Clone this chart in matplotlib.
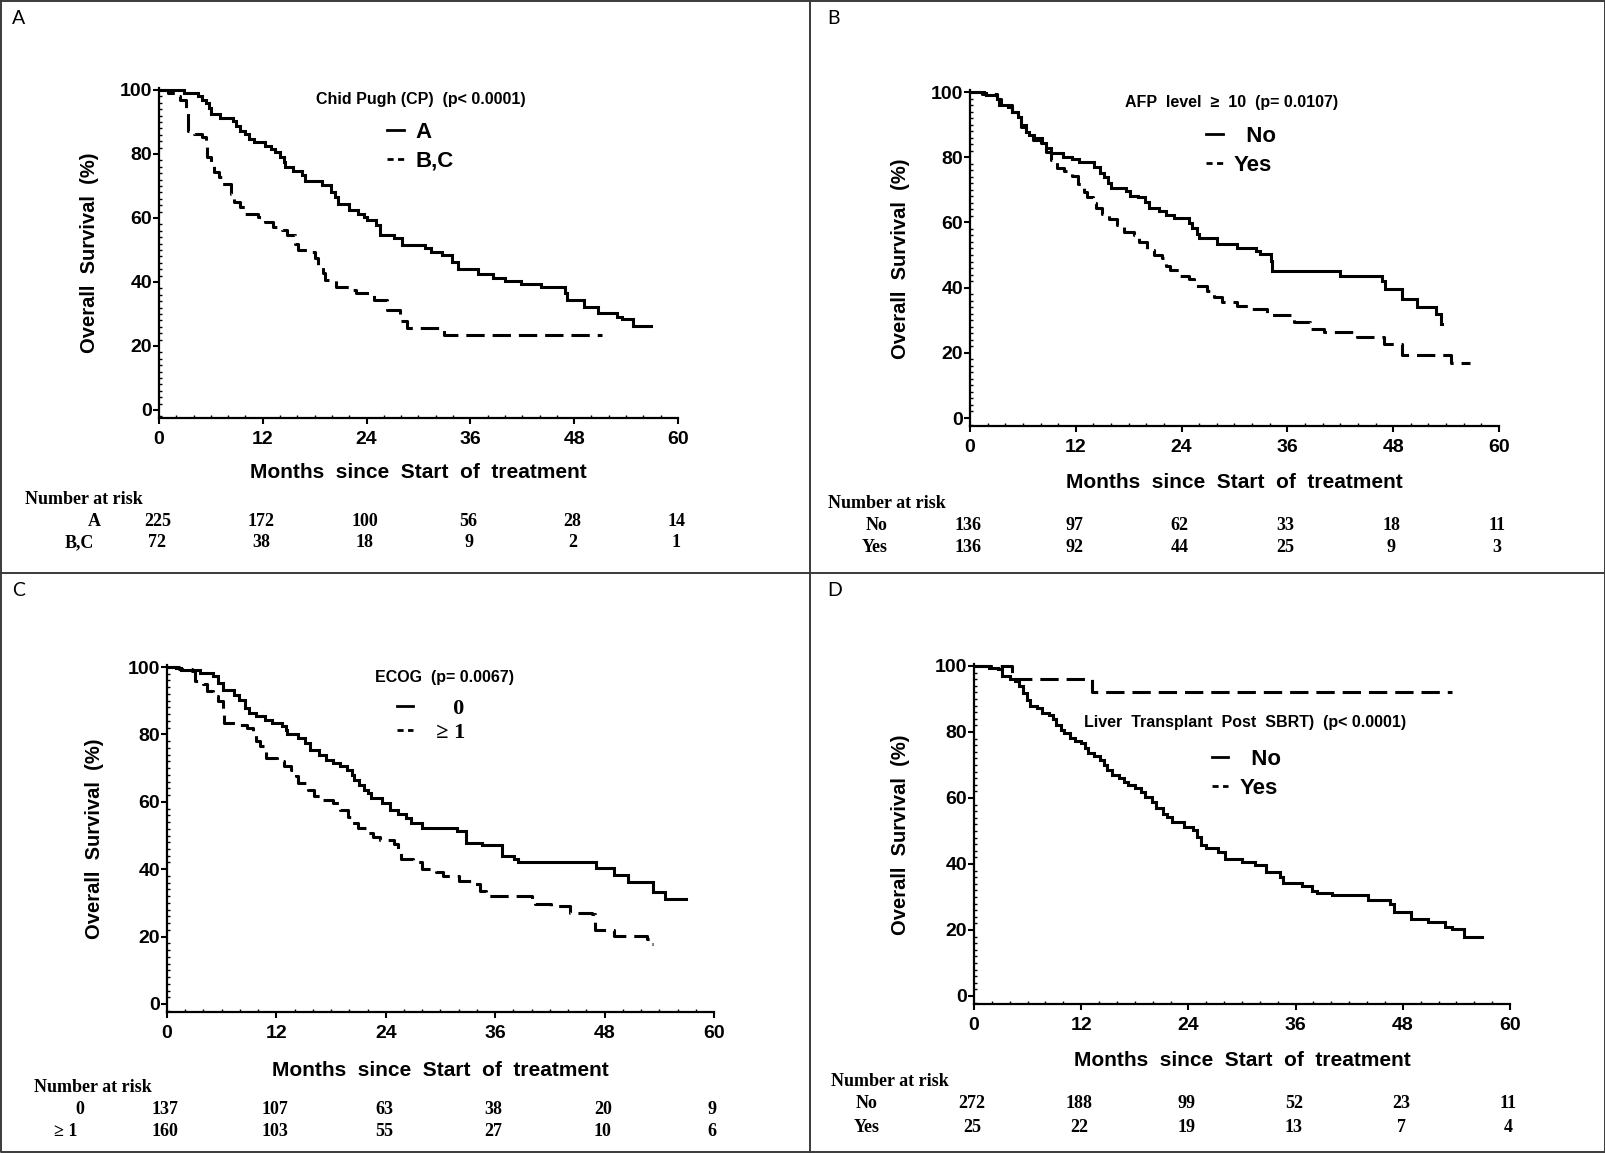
import matplotlib
matplotlib.use("Agg")
import matplotlib.pyplot as plt
from matplotlib.lines import Line2D
from matplotlib.ticker import MultipleLocator
from matplotlib import transforms

plt.rcParams["font.family"] = ["Liberation Sans", "DejaVu Sans"]
plt.rcParams["font.weight"] = "bold"
plt.rcParams["axes.labelweight"] = "bold"
plt.rcParams["axes.linewidth"] = 1.6

W, H = 1606, 1153
SERIF = ["Liberation Serif", "DejaVu Serif"]

# ---- data ----
months = [0, 12, 24, 36, 48, 60]
surv_ticks = [0, 20, 40, 60, 80, 100]

# A: Child Pugh
cpA_t = [0, 2.9, 4.5, 5.0, 5.4, 5.8, 6.0, 7.1, 8.5, 8.9, 9.4, 10.0, 10.4, 11.0, 12.3, 12.9, 13.4, 14.0,
         14.4, 14.6, 15.5, 16.5, 16.9, 18.8, 19.9, 20.3, 20.7, 22.0, 23.0, 23.7, 24.1, 25.1, 25.5, 27.2,
         28.1, 30.8, 31.4, 32.7, 33.9, 34.6, 36.9, 38.6, 40.0, 41.9, 44.2, 46.9, 47.2, 49.1, 50.8, 52.9,
         53.5, 54.8, 56.9]
cpA_s = [100, 99.2, 98, 97, 96, 94.5, 92.4, 91.4, 90.4, 88.8, 87.3, 86.2, 84.7, 83.6, 82.6, 81.6, 80.5,
         79.0, 77.4, 75.9, 74.8, 73.3, 71.7, 70.2, 68.1, 66.5, 64.5, 62.4, 61.3, 60.3, 59.3, 57.7, 54.6,
         53.6, 51.5, 50.5, 49.4, 48.4, 46.3, 44.2, 42.5, 41.1, 40.3, 39.3, 38.3, 36.5, 34.4, 32.1, 30.3,
         29.0, 28.4, 26.3, 26.3]
cpBC_t = [0, 1.0, 1.8, 2.4, 3.1, 3.3, 4.1, 5.0, 5.4, 5.6, 6.0, 6.4, 6.9, 7.3, 8.3, 8.7, 9.4, 10.0, 11.5,
          12.3, 13.2, 14.2, 14.8, 15.7, 16.1, 17.6, 18.0, 18.4, 19.0, 19.2, 20.5, 22.0, 22.8, 24.9, 26.4,
          27.9, 28.7, 32.9, 51.2]
cpBC_s = [100, 99.2, 98, 97, 94.5, 87.3, 86.2, 85.2, 82.1, 79, 76.4, 74.3, 72.7, 70.7, 67.6, 65, 63.4,
          61.3, 60.3, 58.8, 57.2, 56.2, 54.6, 52, 49.9, 49.4, 47.4, 45.3, 42.7, 40.6, 38.5, 37.5, 36.5,
          34.4, 31.3, 27.7, 25.6, 23.5, 23.5]
cp_risk = {"A": [225, 172, 100, 56, 28, 14], "B,C": [72, 38, 18, 9, 2, 1]}

# B: AFP level
afpNo_t = [0, 1.6, 1.8, 3.1, 3.3, 4.3, 4.8, 5.4, 5.8, 6.3, 6.7, 7.3, 8.2, 8.6, 9.2, 10.5, 11.6, 12.4,
           14.1, 14.8, 15.2, 15.6, 16.0, 17.7, 18.2, 19.0, 19.9, 20.3, 21.4, 22.2, 23.1, 24.8, 25.2, 25.8,
           26.0, 28.0, 30.3, 32.4, 32.9, 34.1, 34.3, 42.0, 46.7, 47.1, 49.0, 50.7, 52.8, 53.4, 53.5]
afpNo_s = [100, 99.8, 99, 98, 96.1, 95.4, 93.9, 92.4, 89.8, 87.8, 86.8, 85.8, 84.3, 82.8, 81.2, 80.2,
           79.5, 78.4, 76.9, 75.3, 73.8, 72.2, 70.7, 69.7, 68.2, 67.7, 66.2, 64.5, 63.5, 62.4, 61.4, 59.9,
           58.4, 56.3, 55.3, 53.3, 52.3, 51.3, 50.3, 48.2, 45.2, 43.7, 42.1, 39.6, 36.5, 34.2, 32.0, 28.9,
           28.9]
afpYes_t = [0, 1.4, 3.1, 3.5, 4.8, 5.4, 5.8, 6.3, 7.1, 8.0, 8.6, 9.2, 9.9, 10.7, 11.6, 12.2, 12.9, 13.3,
            13.9, 14.3, 15.0, 15.8, 16.7, 17.5, 18.6, 19.2, 20.1, 20.9, 21.8, 22.2, 22.7, 23.7, 24.8, 25.4,
            26.9, 27.7, 28.6, 30.3, 32.0, 33.7, 36.7, 38.6, 40.1, 43.9, 46.9, 49.0, 54.6, 56.7]
afpYes_s = [100, 99.5, 98, 95.9, 93.9, 91.4, 89.3, 86.8, 85.3, 84.3, 81.7, 79.2, 76.7, 75.7, 74.2, 71.9,
            69.4, 67.9, 65.9, 64.5, 62.6, 61.1, 59.1, 57.1, 56.1, 54.1, 51.5, 50.1, 49.1, 46.5, 45.4, 43.7,
            42.7, 40.6, 39.1, 37.1, 35.5, 34.5, 33.5, 31.5, 29.4, 27.4, 26.4, 24.9, 22.8, 19.3, 16.8, 16.8]
afp_risk = {"No": [136, 97, 62, 33, 18, 11], "Yes": [136, 92, 44, 25, 9, 3]}

# C: ECOG
ecog0_t = [0, 1.0, 1.5, 3.6, 5.0, 5.6, 6.1, 7.3, 7.9, 8.6, 9.0, 9.8, 10.7, 11.5, 12.6, 13.0, 13.2, 14.4,
           15.1, 15.7, 16.7, 17.4, 18.2, 19.0, 19.7, 20.3, 20.5, 21.1, 21.6, 22.0, 22.4, 23.6, 24.5, 25.3,
           26.2, 26.8, 28.0, 31.8, 32.8, 34.5, 36.8, 38.1, 38.5, 47.1, 49.0, 50.6, 53.3, 54.6, 56.9]
ecog0_s = [100, 99.7, 99.2, 98.2, 97.2, 95.3, 93.3, 91.8, 90.3, 87.9, 86.4, 85.4, 84.4, 83.4, 82.4, 81.4,
           80.2, 79.0, 77.5, 75.5, 74.0, 72.5, 71.5, 70.5, 69.5, 68.0, 66.6, 65.1, 63.6, 62.7, 61.2, 59.7,
           57.7, 56.3, 55.2, 53.8, 52.3, 51.3, 47.9, 47.2, 43.9, 42.9, 42.0, 40.5, 38.2, 36.2, 33.1, 31.1,
           31.1]
ecog1_t = [0, 1.3, 2.7, 3.1, 4.0, 4.4, 5.0, 5.6, 6.1, 6.3, 7.7, 8.8, 9.4, 9.8, 10.2, 10.9, 12.1, 12.8,
           13.6, 14.2, 14.4, 15.5, 16.1, 16.9, 18.2, 19.0, 19.9, 20.3, 20.9, 22.0, 22.6, 23.4, 24.9, 25.3,
           25.7, 27.0, 28.0, 29.5, 30.3, 32.0, 33.7, 34.3, 35.0, 40.0, 40.4, 42.1, 44.2, 46.6, 46.9, 49.0,
           52.7, 53.1, 53.3]
ecog1_s = [100, 99.4, 98.7, 95.8, 94.9, 92.8, 91.3, 89.8, 86.4, 83.4, 82.9, 82.0, 80.0, 78.0, 76.5, 73.1,
           72.0, 70.6, 69.5, 67.6, 65.6, 63.6, 61.6, 60.6, 59.6, 57.6, 55.6, 53.6, 52.1, 50.6, 49.6, 48.8,
           47.6, 45.7, 43.1, 42.1, 40.1, 39.1, 38.1, 36.6, 35.6, 33.6, 32.1, 31.1, 29.6, 29.1, 27.1, 26.6,
           21.9, 20.2, 19.2, 17.8, 17.8]
ecog_risk = {"0": [137, 107, 63, 38, 20, 9], "≥ 1": [160, 103, 55, 27, 10, 6]}

# D: Liver transplant post SBRT
ltNo_t = [0, 1.7, 2.7, 3.1, 4.0, 4.6, 5.0, 5.5, 5.9, 6.3, 7.1, 7.6, 8.4, 8.8, 9.2, 9.7, 10.1, 10.7, 11.3,
          12.0, 12.4, 12.8, 13.4, 14.1, 14.5, 14.9, 15.5, 16.2, 16.8, 17.2, 18.0, 18.7, 19.1, 19.9, 20.4,
          21.2, 21.6, 22.2, 23.5, 24.5, 25.0, 25.4, 26.0, 27.3, 28.1, 30.0, 31.5, 32.7, 34.2, 34.6, 36.7,
          37.8, 38.4, 40.1, 44.1, 46.6, 47.0, 48.9, 50.8, 52.7, 53.5, 54.8, 56.9]
ltNo_s = [100, 99.5, 99, 97, 96, 95.4, 93.9, 91.9, 89.8, 87.8, 87.3, 85.8, 85.3, 83.8, 82.2, 80.7, 79.7,
          78.2, 77.2, 76.6, 75.1, 73.6, 72.6, 71.6, 70.1, 68.5, 67.0, 66.0, 65.0, 63.9, 62.9, 61.9, 60.4,
          58.9, 56.9, 55.3, 54.3, 52.8, 51.3, 50.3, 48.2, 45.7, 44.7, 43.7, 41.6, 40.6, 39.6, 37.6, 36.0,
          34.2, 33.2, 31.9, 31.2, 30.5, 29.2, 27.9, 25.4, 23.4, 22.3, 21.0, 20.3, 18.0, 18.0]
ltYes_t = [0, 4.2, 13.2, 53.5]
ltYes_s = [100, 96, 92, 92]
lt_risk = {"No": [272, 188, 99, 52, 23, 11], "Yes": [25, 22, 19, 13, 7, 4]}

# ---- layout (pixel positions in the 1606x1153 canvas) ----
panels = [
    dict(letter="A", letter_xy=(12, 18), box=(159, 678, 90, 410),
         title="Chid Pugh (CP)  (p< 0.0001)", title_xy=(30.3, 96.9),
         curves=[(cpA_t, cpA_s), (cpBC_t, cpBC_s)], labels=["A", "B,C"], label_font=None,
         leg_xy=(26.4, 90.0), leg_sp=0.35, risk=cp_risk, risk_lab_x=[94, 79], head_x=25, head_y=500,
         rows_y=[521, 543], ylab_x=90, xlab_y=473),
    dict(letter="B", letter_xy=(827, 18), box=(970, 1499, 92, 418),
         title="AFP  level  ≥  10  (p= 0.0107)", title_xy=(29.7, 96.9),
         curves=[(afpNo_t, afpNo_s), (afpYes_t, afpYes_s)], labels=["  No", "Yes"], label_font=None,
         leg_xy=(26.8, 89.6), leg_sp=0.35, risk=afp_risk, risk_lab_x=[877, 875], head_x=828, head_y=504,
         rows_y=[526, 548], ylab_x=901, xlab_y=482),
    dict(letter="C", letter_xy=(12, 591), box=(167, 714, 667, 1004),
         title="ECOG  (p= 0.0067)", title_xy=(30.4, 97.0),
         curves=[(ecog0_t, ecog0_s), (ecog1_t, ecog1_s)], labels=["     0", "  ≥ 1"], label_font=SERIF,
         leg_xy=(25.2, 90.6), leg_sp=0.15, risk=ecog_risk, risk_lab_x=[80, 66], head_x=34, head_y=1087,
         rows_y=[1109, 1132], ylab_x=95, xlab_y=1070),
    dict(letter="D", letter_xy=(827, 591), box=(974, 1510, 666, 996),
         title="Liver  Transplant  Post  SBRT)  (p< 0.0001)", title_xy=(30.3, 83.0),
         curves=[(ltNo_t, ltNo_s), (ltYes_t, ltYes_s)], labels=["  No", "Yes"], label_font=None,
         leg_xy=(26.6, 74.8), leg_sp=0.35, risk=lt_risk, risk_lab_x=[867, 867], head_x=831, head_y=1082,
         rows_y=[1104, 1127], ylab_x=901, xlab_y=1061),
]

fig = plt.figure(figsize=(W / 100, H / 100), dpi=100)

# panel frame lines
frame = dict(color="#3a3a3a", lw=1.4, transform=fig.transFigure)
fig.add_artist(Line2D([1 / W, 1 / W, 1 - 1 / W, 1 - 1 / W, 1 / W],
                      [1 - 1 / H, 1 / H, 1 / H, 1 - 1 / H, 1 - 1 / H], **frame))
fig.add_artist(Line2D([810 / W, 810 / W], [0, 1], **frame))
fig.add_artist(Line2D([0, 1], [1 - 573 / H, 1 - 573 / H], **frame))

dash = (0, (6, 2.6))
for p in panels:
    x0, x60, y100, y0 = p["box"]
    ppu = (y0 - y100) / 100
    top = y100 - 0.5 * ppu
    bot = y0 + 2.5 * ppu
    ax = fig.add_axes([x0 / W, 1 - bot / H, (x60 - x0) / W, (bot - top) / H])
    ax.set_xlim(0, 60)
    ax.set_ylim(-2.5, 100.5)
    for s in ["top", "right"]:
        ax.spines[s].set_visible(False)

    (t1, s1), (t2, s2) = p["curves"]
    ax.step(t1, s1, where="post", color="black", lw=2.2, solid_joinstyle="miter")
    ax.step(t2, s2, where="post", color="black", lw=2.2, ls=dash)

    ax.set_xticks(months)
    ax.set_yticks(surv_ticks)
    ax.xaxis.set_minor_locator(MultipleLocator(2))
    ax.yaxis.set_minor_locator(MultipleLocator(2))
    ax.tick_params(which="major", direction="out", length=4, width=1.5, labelsize=14)
    ax.tick_params(axis="y", which="major", pad=1)
    ax.tick_params(axis="x", which="major", pad=5)
    ax.tick_params(which="minor", direction="in", length=2.5, width=1)

    ax.set_xlabel("Months  since  Start  of  treatment", fontsize=15, va="center")
    ax.set_ylabel("Overall  Survival  (%)", fontsize=14.5, va="center")
    hpx = bot - top
    ax.xaxis.set_label_coords(0.5, (bot - p["xlab_y"]) / hpx)
    ax.yaxis.set_label_coords((p["ylab_x"] - x0) / (x60 - x0), 0.5)

    ax.text(*p["title_xy"], p["title"], ha="center", va="center", fontsize=11.5)

    handles = [Line2D([], [], color="black", lw=2.0),
               Line2D([], [], color="black", lw=2.0, ls=(0, (2.2, 1.6)))]
    prop = dict(size=16, weight="bold")
    if p["label_font"]:
        prop["family"] = p["label_font"]
    ax.legend(handles, p["labels"], loc="upper left", bbox_to_anchor=p["leg_xy"],
              bbox_transform=ax.transData, frameon=False, handlelength=0.75, handletextpad=0.5,
              borderpad=0, borderaxespad=0, labelspacing=p["leg_sp"], prop=prop)

    # panel letter
    fig.text(p["letter_xy"][0] / W, 1 - p["letter_xy"][1] / H, p["letter"], fontsize=14,
             family=["Lato", "DejaVu Sans"], weight="normal", va="center", ha="left")

    # number at risk table
    fig.text(p["head_x"] / W, 1 - p["head_y"] / H, "Number at risk",
             family=SERIF, fontsize=13, va="center", ha="left")
    blend = transforms.blended_transform_factory(ax.transData, fig.transFigure)
    for (lab, vals), lx, ry in zip(p["risk"].items(), p["risk_lab_x"], p["rows_y"]):
        fig.text(lx / W, 1 - ry / H, lab, family=SERIF, fontsize=13, va="center", ha="center")
        for m, v in zip(months, vals):
            ax.text(m - 0.2, 1 - ry / H, str(v), transform=blend, family=SERIF, fontsize=13,
                    va="center", ha="center", clip_on=False)

fig.savefig("out.png", dpi=100)
